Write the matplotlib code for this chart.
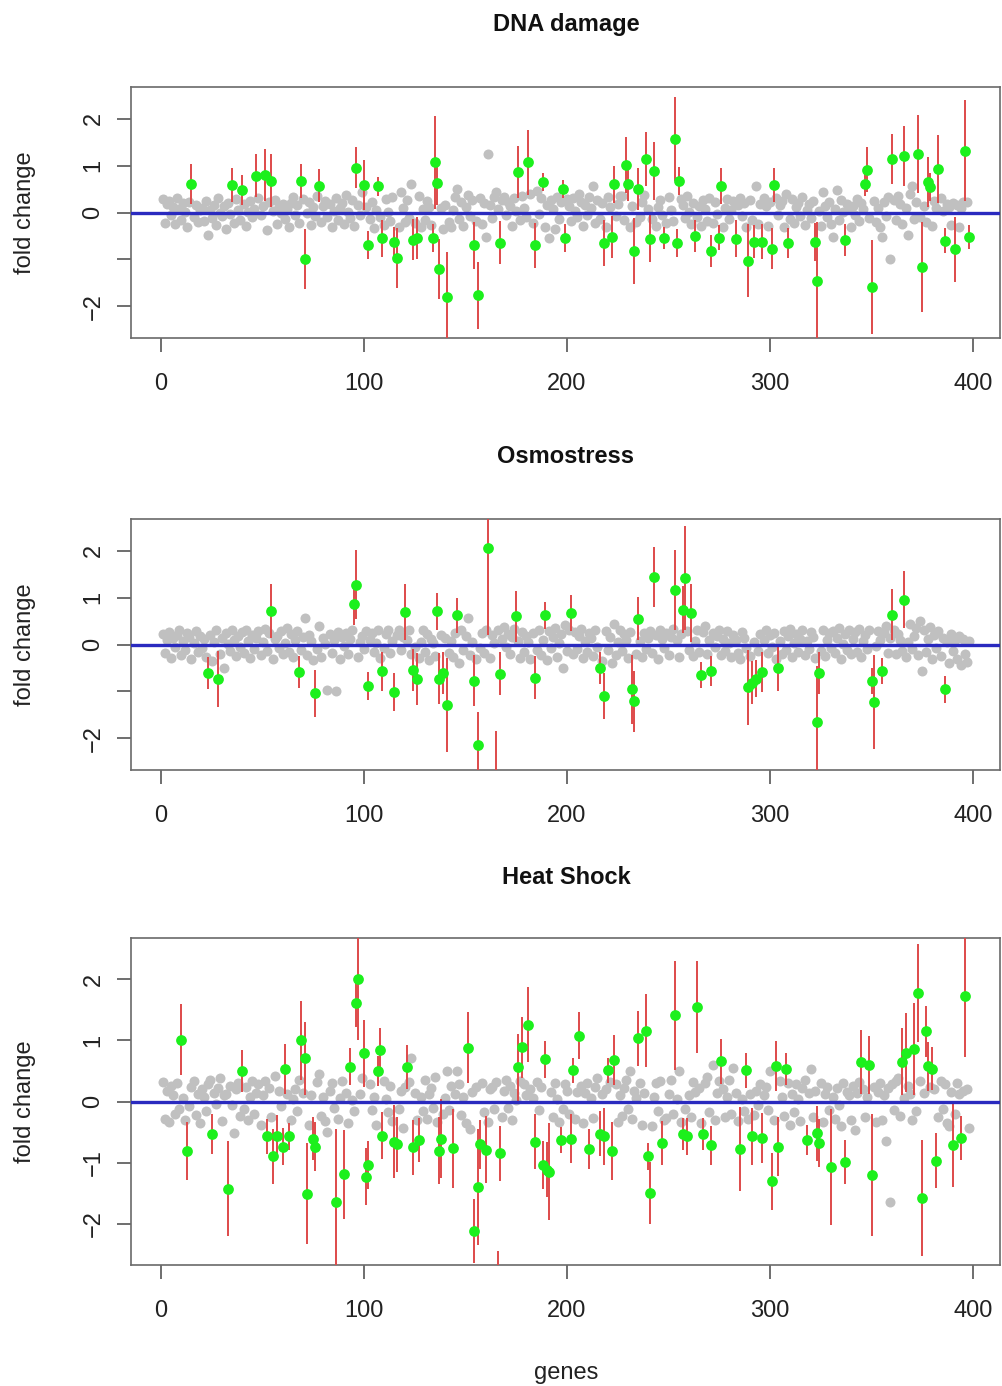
import numpy as np
import matplotlib
matplotlib.use('Agg')
import matplotlib.pyplot as plt

plt.rcParams['font.family'] = ['Liberation Sans', 'DejaVu Sans']

# fold change of the non-significant genes (gray), gene 1..398
dna_gray = [
    0.28,-0.22,0.18,0.25,-0.05,0.12,-0.25,0.30,0.08,-0.15,0.20,0.02,-0.30,0.22,0.10,-0.10,0.15,-0.20,0.05,0.10,
    -0.18,0.24,-0.49,0.06,-0.12,0.16,-0.26,0.32,0.00,-0.08,0.14,-0.35,0.20,-0.04,0.10,-0.22,0.28,0.05,-0.16,0.12,
    0.18,-0.28,0.02,0.24,-0.10,0.08,-0.20,0.30,-0.05,0.14,0.10,-0.38,0.22,-0.12,0.04,0.26,-0.24,0.12,-0.02,0.18,
    -0.14,0.08,-0.30,0.20,0.34,-0.06,0.15,-0.22,0.10,0.28,-0.18,0.00,0.22,-0.26,0.12,-0.08,0.35,0.06,-0.20,0.14,
    0.24,-0.10,0.18,-0.32,0.04,0.30,-0.16,0.10,0.20,-0.24,0.38,0.02,-0.12,0.26,-0.28,0.08,0.16,-0.06,0.44,-0.20,
    0.12,0.30,-0.14,0.22,-0.34,0.06,0.40,-0.10,0.18,-0.26,0.28,0.02,-0.18,0.34,-0.08,0.14,-0.30,0.43,0.10,-0.20,
    0.26,-0.12,0.61,0.04,-0.22,0.18,0.36,-0.30,0.08,-0.16,0.24,0.12,-0.26,0.30,-0.04,0.20,-0.32,0.10,-0.35,0.16,
    0.28,-0.20,-0.30,0.06,0.34,0.50,-0.14,0.22,-0.28,0.12,0.38,-0.08,0.26,0.48,-0.18,0.10,0.30,-0.24,0.20,-0.52,
    1.25,0.16,-0.12,0.34,0.43,0.08,-0.20,0.26,0.33,-0.06,0.22,0.14,-0.28,0.30,0.04,0.18,-0.16,0.36,0.10,-0.10,
    0.24,0.40,-0.22,0.12,0.45,-0.04,0.30,0.20,-0.30,0.16,-0.55,0.26,0.08,-0.35,0.34,-0.14,0.22,0.10,-0.26,0.28,
    0.14,-0.18,0.30,0.04,-0.10,0.40,0.22,-0.28,0.16,-0.06,0.34,0.10,0.57,-0.22,0.26,-0.14,0.20,0.06,-0.30,0.33,
    0.12,-0.24,0.28,-0.08,0.18,0.36,0.35,-0.16,0.10,0.24,-0.32,0.14,0.04,-0.20,0.30,-0.10,0.22,0.38,-0.26,0.08,
    0.20,-0.14,0.32,-0.28,0.12,0.26,-0.06,0.18,-0.22,0.34,0.06,-0.18,0.24,0.10,-0.30,0.28,0.16,-0.12,0.36,0.02,
    -0.24,0.20,0.30,-0.10,0.14,-0.28,0.26,0.08,-0.18,0.32,0.12,-0.22,0.22,-0.04,0.34,0.18,-0.30,0.10,0.28,-0.14,
    0.06,0.24,-0.26,0.16,0.30,-0.08,0.20,-0.32,0.12,0.26,-0.16,0.04,0.57,-0.24,0.18,-0.10,0.32,0.14,-0.28,0.22,
    0.08,-0.18,0.30,-0.06,0.16,0.24,-0.30,0.40,0.10,-0.14,0.28,-0.22,0.12,0.20,-0.08,0.34,-0.26,0.06,0.18,-0.12,
    0.24,-0.20,0.30,0.04,-0.28,0.43,0.14,-0.10,0.22,-0.24,-0.53,0.08,0.48,-0.16,0.26,0.02,-0.22,0.18,0.10,-0.30,
    0.14,-0.06,0.28,-0.18,0.20,0.08,-0.26,0.30,-0.12,0.16,0.24,-0.20,0.10,-0.32,-0.53,0.22,-0.08,0.34,-0.99,0.12,
    0.26,-0.16,0.36,0.18,-0.24,0.30,0.10,-0.47,0.40,0.56,-0.14,0.22,0.32,-0.10,0.28,0.14,-0.20,0.38,0.06,-0.28,
    0.24,0.10,-0.16,0.30,0.04,-0.22,0.18,0.12,-0.26,0.20,-0.08,0.16,-0.30,0.10,0.22,-0.14,0.23,-0.06,
]
osmo_gray = [
    0.22,-0.18,0.10,0.26,-0.28,0.14,-0.06,0.20,0.30,-0.22,0.08,-0.12,0.24,0.16,-0.30,0.04,0.28,-0.16,0.18,-0.08,
    0.12,-0.26,-0.60,0.20,-0.36,0.06,0.30,-0.74,-0.20,0.14,-0.50,0.24,0.02,-0.14,0.32,0.10,-0.24,0.18,-0.06,0.26,
    -0.18,0.30,0.08,-0.28,0.20,-0.10,0.14,0.29,-0.22,0.06,0.34,-0.14,0.24,0.71,-0.30,0.12,0.18,-0.08,0.28,-0.20,
    0.04,0.36,-0.16,0.22,-0.26,0.10,0.28,0.28,-0.12,0.16,0.57,-0.22,0.20,0.08,-0.34,0.30,-0.10,0.39,-0.26,0.14,
    0.02,-0.97,0.22,-0.18,0.10,-0.99,0.26,-0.30,0.16,-0.04,0.24,-0.20,0.12,0.30,-0.14,0.20,-0.26,0.06,0.18,-0.10,
    0.28,-0.22,0.10,0.24,-0.16,0.04,0.32,-0.28,0.14,-0.08,0.22,0.30,-0.18,0.08,-0.26,0.20,0.32,-0.12,0.16,-0.30,
    0.10,0.32,-0.20,0.26,-0.06,0.18,-0.28,0.06,0.30,-0.16,0.22,-0.34,0.12,0.04,-0.24,0.28,-0.10,0.20,-0.30,0.14,
    0.36,-0.18,0.08,-0.26,0.24,0.10,-0.40,0.30,-0.12,0.18,0.56,-0.22,0.06,0.28,-0.32,0.14,-0.08,0.24,-0.18,0.32,
    0.10,-0.28,0.20,0.04,-0.14,0.30,-0.24,0.12,0.38,-0.06,0.22,-0.20,0.16,0.34,-0.10,0.08,-0.28,0.26,-0.16,0.18,
    0.06,-0.30,0.24,0.14,-0.12,0.30,-0.22,0.10,0.20,-0.34,0.28,-0.08,0.16,0.36,-0.26,0.04,0.22,-0.50,0.41,-0.14,
    0.30,0.12,-0.20,0.26,-0.10,0.18,0.34,-0.28,0.08,-0.16,0.24,0.14,-0.24,0.30,-0.06,0.20,-0.36,0.10,0.28,-0.12,
    0.16,-0.40,0.44,-0.22,0.06,0.30,-0.14,0.22,0.10,-0.28,0.26,-0.04,0.18,-0.20,0.32,0.08,-0.26,0.24,-0.10,0.14,
    0.28,-0.18,0.06,0.20,-0.30,0.30,0.12,-0.08,0.24,-0.22,0.16,0.34,-0.14,0.10,-0.26,0.22,0.04,-0.40,0.28,-0.12,
    0.18,-0.24,0.08,0.30,-0.16,0.14,0.26,0.40,-0.20,0.10,-0.30,0.24,-0.06,0.18,0.32,-0.22,0.12,-0.14,0.28,0.04,
    -0.26,0.20,0.10,-0.18,-0.30,0.26,0.14,-0.08,0.30,-0.24,0.16,0.06,0.48,-0.14,0.22,-0.28,0.10,0.30,-0.18,0.20,
    -0.06,0.24,-0.30,0.14,0.08,-0.20,0.28,-0.12,0.18,0.34,-0.26,0.04,0.22,-0.16,0.12,0.30,-0.22,0.08,-0.10,0.26,
    0.16,-0.28,0.20,0.06,-0.14,0.32,-0.24,0.10,0.24,-0.08,0.28,-0.18,0.14,0.36,-0.30,0.02,0.22,-0.12,0.30,-0.20,
    0.12,0.26,-0.16,0.34,-0.26,0.08,0.20,-0.10,0.30,-0.22,0.16,-0.04,0.28,0.10,-0.30,0.24,0.40,-0.18,0.14,-0.08,
    0.32,-0.20,0.22,0.10,-0.14,0.28,-0.26,0.06,0.44,-0.10,0.18,0.36,-0.22,0.50,-0.56,0.30,-0.16,0.12,0.38,-0.30,
    0.20,-0.08,0.28,-0.24,0.14,-0.34,0.06,-0.40,0.22,-0.14,0.10,-0.30,0.18,-0.44,0.12,-0.20,-0.38,0.08,
]
heat_gray = [
    0.32,-0.28,0.18,-0.34,0.26,0.10,-0.20,0.30,-0.12,0.22,0.06,-0.30,0.16,-0.08,0.24,0.34,-0.22,0.12,-0.36,0.20,
    0.08,-0.16,0.28,0.36,-0.26,0.14,-0.04,0.22,0.38,-0.32,0.10,0.13,-0.18,0.26,-0.06,-0.51,0.20,0.30,-0.24,0.16,
    -0.12,0.24,-0.30,0.08,0.34,-0.20,0.14,0.28,-0.38,0.10,0.34,-0.14,0.22,-0.26,0.06,0.41,-0.34,0.18,-0.08,0.30,
    -0.22,0.12,0.26,-0.30,0.04,0.20,-0.16,0.36,-0.26,0.14,-0.06,0.28,-0.38,0.10,0.22,-0.14,0.32,0.45,-0.24,0.08,
    -0.32,-0.50,0.18,0.30,-0.10,0.24,-0.28,0.06,0.34,-0.20,0.14,-0.36,0.26,0.02,-0.16,0.30,-0.24,0.12,0.38,-0.08,
    0.20,-0.30,0.28,-0.14,0.08,-0.38,0.22,0.14,-0.26,0.34,0.04,-0.18,0.26,-0.32,0.10,0.30,-0.12,0.18,-0.43,0.24,
    -0.06,0.32,0.72,-0.22,0.14,-0.30,0.26,0.08,-0.16,0.36,-0.28,0.12,0.22,-0.10,0.40,-0.34,0.18,0.30,-0.20,0.06,
    0.50,-0.14,0.26,-0.32,0.12,0.50,0.28,-0.22,0.08,-0.36,0.34,-0.45,0.16,-0.10,0.24,-0.28,0.04,0.30,-0.18,0.12,
    -0.34,0.20,0.24,-0.12,0.32,-0.26,0.08,-0.25,0.18,0.36,-0.10,0.26,-0.30,0.14,0.02,-0.22,0.34,-0.16,0.28,0.10,
    -0.36,0.20,0.06,-0.24,0.32,-0.14,0.24,0.12,-0.30,0.38,-0.08,0.16,-0.26,0.30,0.04,-0.34,0.22,-0.12,0.28,0.18,
    -0.20,0.10,0.34,-0.28,0.16,-0.06,0.26,-0.36,0.14,0.30,-0.18,0.06,-0.27,0.24,0.38,-0.14,0.12,-0.30,0.20,-0.08,
    0.32,-0.22,0.16,0.28,-0.34,0.10,-0.24,0.22,0.36,-0.12,0.50,-0.28,0.18,0.06,-0.20,0.30,-0.38,0.14,0.24,-0.10,
    0.26,-0.40,0.08,0.30,-0.16,0.34,0.20,-0.30,-0.27,0.12,0.36,-0.20,0.24,0.04,0.50,-0.34,0.18,-0.12,0.28,0.10,
    -0.26,0.32,0.16,-0.08,0.22,-0.36,0.12,0.30,0.40,-0.18,0.24,0.60,-0.30,0.14,0.34,-0.12,0.20,-0.26,0.08,0.36,
    -0.20,0.55,0.14,-0.32,0.26,0.04,-0.16,0.30,-0.28,0.12,0.36,-0.22,0.18,-0.06,0.28,-0.36,0.10,0.24,-0.14,0.50,
    0.16,-0.30,0.26,-0.10,0.34,0.08,-0.24,0.20,0.30,-0.38,0.12,-0.18,0.28,0.04,-0.32,0.22,0.36,-0.12,0.14,0.53,
    -0.26,0.18,0.06,-0.20,0.30,-0.34,0.12,0.24,-0.14,0.34,0.08,-0.28,0.22,-0.06,-0.40,0.30,-0.22,0.16,0.10,-0.30,
    0.26,-0.47,0.14,0.32,-0.18,0.20,-0.26,0.08,0.36,-0.12,0.24,-0.34,0.16,0.30,-0.31,0.10,-0.65,0.22,-1.64,0.28,
    -0.14,0.34,0.39,-0.24,0.18,0.06,-0.36,0.26,0.12,-0.30,0.30,-0.16,0.22,0.33,-0.28,0.14,0.36,-0.10,0.24,-0.34,
    0.20,0.08,-0.26,0.33,-0.12,0.28,-0.36,-0.40,0.16,0.24,-0.20,0.30,0.12,-0.28,0.18,-0.22,0.20,-0.44,
]

# significant genes (green) with their error (half length of the red bar)
dna_sig_gene = [15,35,40,47,51,54,69,71,78,96,100,102,107,109,115,116,124,126,134,135,136,137,141,154,156,167,176,181,184,188,
                198,199,218,222,223,229,230,233,235,239,241,243,248,253,254,255,263,271,275,276,283,289,292,296,301,302,309,322,323,337,
                347,348,350,360,366,373,375,378,379,383,386,391,396,398]
dna_sig_fc = [0.61,0.59,0.48,0.79,0.80,0.68,0.67,-0.99,0.57,0.96,0.59,-0.69,0.56,-0.55,-0.63,-0.97,-0.58,-0.55,-0.55,1.07,0.62,-1.20,-1.80,-0.70,-1.77,-0.65,0.87,1.07,-0.70,0.65,
              0.50,-0.55,-0.65,-0.52,0.60,1.02,0.60,-0.82,0.50,1.14,-0.56,0.89,-0.55,1.57,-0.65,0.68,-0.51,-0.82,-0.54,0.57,-0.56,-1.03,-0.62,-0.62,-0.77,0.59,-0.65,-0.63,-1.47,-0.58,
              0.61,0.91,-1.59,1.14,1.21,1.25,-1.16,0.65,0.55,0.93,-0.60,-0.79,1.32,-0.52]
dna_sig_err = [0.43,0.37,0.32,0.46,0.55,0.56,0.36,0.64,0.35,0.43,0.53,0.30,0.20,0.40,0.32,0.64,0.44,0.45,0.30,1.00,0.45,0.64,0.95,0.50,0.71,0.46,0.55,0.69,0.48,0.20,
               0.20,0.30,0.50,0.45,0.40,0.60,0.35,0.71,0.45,0.58,0.50,0.62,0.23,0.90,0.30,0.30,0.34,0.35,0.27,0.39,0.39,0.78,0.35,0.38,0.44,0.37,0.32,0.40,1.27,0.34,
               0.25,0.48,1.00,0.53,0.64,0.83,0.96,0.53,0.30,0.73,0.27,0.69,1.08,0.25]

osmo_sig_gene = [23,28,54,68,76,95,96,102,109,115,120,124,126,136,137,139,141,146,154,156,161,165,167,175,184,189,202,216,218,232,
                 233,235,243,253,257,258,261,266,271,289,291,293,296,304,323,324,350,351,355,360,366,386]
osmo_sig_fc = [-0.60,-0.74,0.71,-0.59,-1.04,0.87,1.28,-0.89,-0.57,-1.01,0.69,-0.55,-0.74,0.71,-0.73,-0.60,-1.29,0.62,-0.77,-2.15,2.06,-2.95,-0.62,0.60,-0.71,0.62,0.67,-0.50,-1.10,-0.96,
               -1.21,0.55,1.44,1.17,0.74,1.42,0.67,-0.65,-0.57,-0.91,-0.82,-0.73,-0.59,-0.50,-1.65,-0.60,-0.78,-1.23,-0.57,0.64,0.96,-0.96]
osmo_sig_err = [0.34,0.60,0.58,0.34,0.50,0.45,0.74,0.30,0.42,0.40,0.60,0.45,0.55,0.40,0.55,0.45,1.00,0.37,0.55,0.70,1.85,1.10,0.46,0.55,0.46,0.28,0.39,0.35,0.50,0.74,
                0.65,0.46,0.64,0.85,0.50,1.10,0.62,0.28,0.32,0.80,0.46,0.40,0.42,0.50,1.20,0.45,0.28,1.00,0.28,0.55,0.60,0.28]

heat_sig_gene = [10,13,25,33,40,52,55,57,60,61,63,69,71,72,75,76,86,90,93,96,97,100,101,102,107,108,109,115,116,121,
                 124,127,137,138,144,151,154,156,157,160,166,167,176,178,181,184,188,189,190,191,197,202,203,206,211,216,218,220,222,223,
                 235,239,240,241,247,253,257,259,264,267,271,276,285,288,291,296,301,303,304,308,318,323,324,330,337,345,349,350,365,367,
                 371,373,375,377,378,380,382,390,394,396]
heat_sig_fc = [1.01,-0.81,-0.53,-1.43,0.50,-0.57,-0.90,-0.57,-0.74,0.54,-0.57,1.00,0.71,-1.51,-0.61,-0.74,-1.65,-1.19,0.57,1.62,2.00,0.79,-1.23,-1.04,0.50,0.84,-0.56,-0.66,-0.70,0.56,
               -0.75,-0.63,-0.81,-0.61,-0.77,0.88,-2.12,-1.40,-0.70,-0.79,-3.30,-0.85,0.56,0.89,1.26,-0.66,-1.04,0.69,-1.12,-1.15,-0.63,-0.61,0.51,1.08,-0.78,-0.53,-0.57,0.51,-0.81,0.68,
               1.04,1.16,-0.90,-1.50,-0.68,1.41,-0.53,-0.57,1.55,-0.53,-0.72,0.66,-0.78,0.51,-0.57,-0.60,-1.31,0.58,-0.74,0.53,-0.63,-0.52,-0.68,-1.07,-0.99,0.65,0.60,-1.20,0.65,0.80,
               0.86,1.78,-1.58,1.15,0.58,0.54,-0.97,-0.71,-0.60,1.73]
heat_sig_err = [0.58,0.48,0.33,0.78,0.35,0.29,0.45,0.35,0.30,0.41,0.22,0.65,0.60,0.83,0.35,0.40,1.20,0.73,0.30,0.40,1.00,0.55,0.47,0.40,0.25,0.37,0.38,0.60,0.45,0.36,
                0.45,0.36,0.55,0.65,0.65,0.58,0.52,0.95,0.40,0.55,0.85,0.45,0.55,0.50,0.62,0.45,0.40,0.30,0.45,0.80,0.21,0.40,0.21,0.38,0.33,0.37,0.47,0.21,0.48,0.41,
                0.45,0.60,0.22,0.51,0.36,0.90,0.26,0.30,0.75,0.26,0.32,0.37,0.69,0.29,0.47,0.41,0.47,0.41,0.48,0.26,0.25,0.45,0.40,0.95,0.36,0.53,0.47,1.00,0.55,0.65,
                0.75,0.80,0.95,0.42,0.40,0.35,0.45,0.69,0.36,1.00]

panels = [
    ('DNA damage', dna_gray, dna_sig_gene, dna_sig_fc, dna_sig_err, ['2', '1', '0', '', '\u22122']),
    ('Osmostress', osmo_gray, osmo_sig_gene, osmo_sig_fc, osmo_sig_err, ['2', '1', '0', '', '\u22122']),
    ('Heat Shock', heat_gray, heat_sig_gene, heat_sig_fc, heat_sig_err, ['2', '1', '0', '\u22121', '\u22122']),
]

W, H = 1002, 1386
fig = plt.figure(figsize=(W / 100, H / 100), dpi=100)

# (top, bottom) of each plot box in pixels, and title y
boxes = [(87, 338, 25), (519, 770, 457), (938, 1265, 878)]
left, right = 131, 1000

for (title, gray, sg, sfc, serr, ylabs), (top, bot, ty) in zip(panels, boxes):
    ax = fig.add_axes([left / W, 1 - bot / H, (right - left) / W, (bot - top) / H])
    gray = np.array(gray)
    genes = np.arange(1, len(gray) + 1)
    keep = ~np.isin(genes, sg)
    sg = np.array(sg)
    sfc = np.array(sfc)
    serr = np.array(serr)

    ax.scatter(genes[keep], gray[keep], s=52, color='#c0c0c0', linewidths=0, zorder=2)
    ax.vlines(sg, sfc - serr, sfc + serr, color='#de4a4a', lw=1.4, zorder=3)
    ax.axhline(0, color='#2a2abf', lw=2.4, zorder=4)
    ax.scatter(sg, sfc, s=60, color='#1cf01c', linewidths=0, zorder=5)

    ax.set_xlim(-14.8, 413.3)
    ax.set_ylim(-2.68, 2.68)
    ax.set_xticks([0, 100, 200, 300, 400])
    ax.set_yticks([2, 1, 0, -1, -2])
    ax.set_yticklabels(ylabs)
    for sp in ax.spines.values():
        sp.set_color('#6a6a6a')
        sp.set_linewidth(1.2)
    ax.tick_params(axis='both', length=10, width=1.2, color='#555555',
                   labelsize=17, labelcolor='#222222')
    ax.tick_params(axis='x', pad=15)
    ax.tick_params(axis='y', pad=9)
    for lab in ax.get_yticklabels():
        lab.set_rotation(90)
        lab.set_va('center')

    fig.text(566 / W, 1 - ty / H, title, ha='center', va='center',
             fontsize=17, fontweight='bold', color='#111111')
    fig.text(25 / W, 1 - (top + bot) / 2 / H, 'fold change', rotation=90,
             ha='center', va='center', fontsize=17, color='#222222')

fig.text(566 / W, 1 - 1373 / H, 'genes', ha='center', va='center',
         fontsize=17, color='#222222')

fig.savefig('out.png', dpi=100)
